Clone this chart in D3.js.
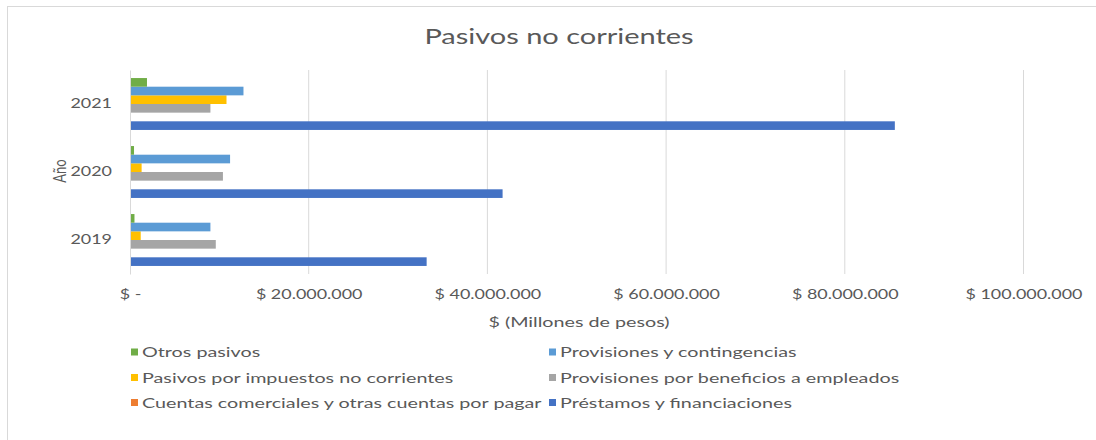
<!DOCTYPE html>
<html>
<head>
<meta charset="utf-8">
<script src="https://cdn.jsdelivr.net/npm/d3@7"></script>
<style>
  html, body { margin: 0; padding: 0; background: #ffffff; }
  svg { display: block; font-family: Lato, "Open Sans", sans-serif; }
</style>
</head>
<body>
<svg id="chart" width="1096" height="440"></svg>
<script>
// Categories (years) and series values in pesos (millions shown on axis)
const years = ["2019", "2020", "2021"];
const prestamos     = [33200000, 41700000, 85600000];
const cuentas       = [0, 0, 0];
const beneficios    = [9600000, 10400000, 9000000];
const impuestos     = [1200000, 1300000, 10800000];
const contingencias = [9000000, 11200000, 12700000];
const otros         = [500000, 450000, 1900000];

const seriesNames = [
  "Préstamos y financiaciones",
  "Cuentas comerciales y otras cuentas por pagar",
  "Provisiones por beneficios a empleados",
  "Pasivos por impuestos no corrientes",
  "Provisiones y contingencias",
  "Otros pasivos"
];
const seriesValues = [prestamos, cuentas, beneficios, impuestos, contingencias, otros];
const seriesColors = ["#4472C4", "#ED7D31", "#A5A5A5", "#FFC000", "#5B9BD5", "#70AD47"];
const xTicks = [0, 20000000, 40000000, 60000000, 80000000, 100000000];

const title = "Pasivos no corrientes";
const xTitle = "$ (Millones de pesos)";
const yTitle = "Año";

// horizontal stretch applied to all text
const K = 1.38;
const textColor = "#595959";

const svg = d3.select("#chart");

// chart frame
svg.append("rect")
  .attr("x", 7.5).attr("y", 6.5)
  .attr("width", 1200).attr("height", 600)
  .attr("fill", "#ffffff").attr("stroke", "#d9d9d9");

const plot = { left: 130, right: 1023.5, top: 70, bottom: 274 };

const x = d3.scaleLinear().domain([0, 100000000]).range([plot.left, plot.right]);

// years top to bottom: latest first
const y = d3.scaleBand().domain(years.slice().reverse()).range([plot.top, plot.bottom]).padding(0);

// series stacked inside each band: last series on top
const inner = d3.scaleBand()
  .domain(d3.range(seriesNames.length).reverse())
  .range([0, y.bandwidth()])
  .paddingInner(0)
  .paddingOuter(0.93);

const fmt = v => v === 0 ? "$ -" : "$ " + d3.format(",")(v).replace(/,/g, ".");

// gridlines
svg.append("g")
  .selectAll("line")
  .data(xTicks.slice(1))
  .join("line")
  .attr("x1", d => x(d)).attr("x2", d => x(d))
  .attr("y1", plot.top).attr("y2", plot.bottom)
  .attr("stroke", "#d9d9d9").attr("stroke-width", 1);

// bars
const groups = svg.append("g")
  .selectAll("g")
  .data(years)
  .join("g")
  .attr("transform", d => `translate(0,${y(d)})`);

groups.selectAll("rect")
  .data((yr, i) => seriesValues.map((vals, s) => ({ s, v: vals[i] })))
  .join("rect")
  .attr("x", x(0))
  .attr("y", d => inner(d.s))
  .attr("width", d => x(d.v) - x(0))
  .attr("height", inner.bandwidth())
  .attr("fill", d => seriesColors[d.s]);

// vertical category axis
const yAxis = svg.append("g")
  .attr("transform", `translate(${plot.left},0)`)
  .call(d3.axisLeft(y).tickSize(0).tickPadding(0));
yAxis.select(".domain").attr("stroke", "#d9d9d9");
yAxis.selectAll("text")
  .attr("x", -18 / K)
  .attr("transform", `scale(${K},1)`)
  .attr("fill", textColor)
  .style("font-size", "13px")
  .style("font-family", "Lato, sans-serif");

// horizontal value axis
const xAxis = svg.append("g")
  .attr("transform", `translate(0,${plot.bottom})`)
  .call(d3.axisBottom(x).tickValues(xTicks).tickFormat(fmt).tickSize(0).tickPadding(16));
xAxis.select(".domain").remove();
xAxis.selectAll("text")
  .attr("transform", `scale(${K},1)`)
  .attr("fill", textColor)
  .style("font-size", "13px")
  .style("font-family", "Lato, sans-serif");

// helper for stretched text
function label(parent, txt, px, py, size, anchor, k, rotate) {
  const g = parent.append("g")
    .attr("transform", `translate(${px},${py})` + (rotate ? ` rotate(${rotate}) scale(1,${k})` : ` scale(${k},1)`));
  g.append("text")
    .attr("text-anchor", anchor)
    .attr("dominant-baseline", "central")
    .attr("fill", textColor)
    .style("font-size", size + "px")
    .text(txt);
  return g;
}

label(svg, title, 559, 36, 21, "middle", K);
label(svg, xTitle, 579, 322, 14.3, "middle", K);
label(svg, yTitle, 59, 171, 13, "middle", K, -90);

// legend: two columns, reverse of series order
const legendOrder = d3.range(seriesNames.length).reverse();
const legendCols = [131, 549];
const legendRows = [352, 377.5, 402.5];
const legend = svg.append("g");
legendOrder.forEach((s, i) => {
  const cx = legendCols[i % 2];
  const cy = legendRows[Math.floor(i / 2)];
  legend.append("rect")
    .attr("x", cx).attr("y", cy - 3.5)
    .attr("width", 7).attr("height", 7)
    .attr("fill", seriesColors[s]);
  label(legend, seriesNames[s], cx + 11, cy, 14, "start", 1.41);
});
</script>
</body>
</html>
